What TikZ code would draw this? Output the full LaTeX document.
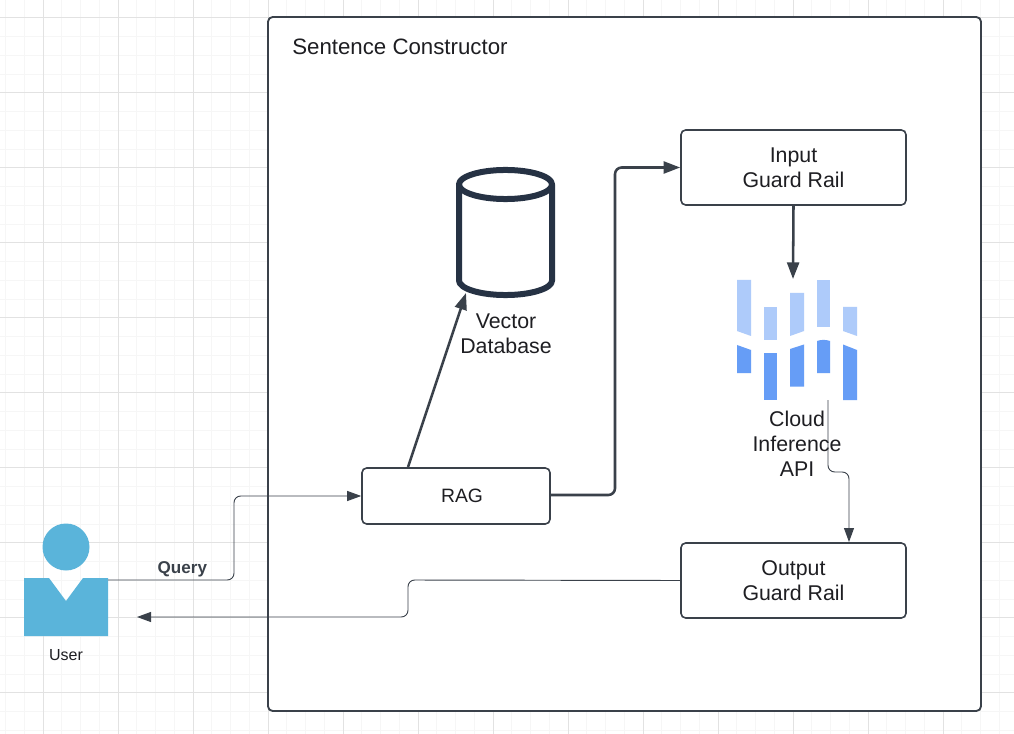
\documentclass[tikz,border=0pt]{standalone}
\usepackage{fontspec}
\setmainfont{Liberation Sans}
\usepackage{xcolor}
\usetikzlibrary{arrows.meta}
\definecolor{guard_ink}{RGB}{58,65,74}
\definecolor{guard_text}{RGB}{30,30,34}
\definecolor{db_navy}{RGB}{38,50,68}
\definecolor{user_blue}{RGB}{90,180,218}
\definecolor{cloud_light}{RGB}{174,203,250}
\definecolor{cloud_dark}{RGB}{102,157,246}
\definecolor{grid_minor}{RGB}{246,246,246}
\definecolor{grid_major}{RGB}{226,226,226}

\begin{document}
\begin{tikzpicture}[x=0.75pt,y=-0.75pt,font=\fontsize{16}{18.75}\selectfont,
          box/.style={draw=guard_ink, fill=white, line width=1.2pt, rounded corners=3.5pt,
                      text=guard_text, align=center},
          lbl/.style={text=guard_text, align=center, inner sep=0pt},
          dbline/.style={draw=db_navy, line width=4.5pt, line join=round},
          thinarr/.style={-{Stealth[length=10.5pt,width=7.5pt,inset=0pt]}, guard_ink, line width=0.7pt, rounded corners=5pt},
          thickarr/.style={-{Stealth[length=12.5pt,width=9pt,inset=0pt]}, guard_ink, line width=1.9pt, rounded corners=5pt}]
        \useasboundingbox (0,0) rectangle (1014,734);
        \fill[white] (0,0) rectangle (1014,734);
        % grid
        \foreach \gx in {0,...,54} \draw[grid_minor,line width=0.7pt] (5.5+18.75*\gx,0) -- (5.5+18.75*\gx,734);
        \foreach \gy in {0,...,39} \draw[grid_minor,line width=0.7pt] (0,-1+18.75*\gy) -- (1014,-1+18.75*\gy);
        \foreach \gx in {0,...,13} \draw[grid_major,line width=0.75pt] (43.25+75*\gx,0) -- (43.25+75*\gx,734);
        \foreach \gy in {0,...,9} \draw[grid_major,line width=0.75pt] (0,17.5+75*\gy) -- (1014,17.5+75*\gy);

        % boxes
        \node[box,minimum width=534.75pt,minimum height=520.5pt,line width=1.4pt] (frame) at (624.5,364) {};
        \node[lbl,anchor=west,font=\fontsize{16.7}{20}\selectfont] (title) at (292,47) {Sentence Constructor};
        \node[box,minimum width=168.75pt,minimum height=56.25pt] (input) at (793.5,167.5) {Input\\Guard Rail};
        \node[box,minimum width=168.75pt,minimum height=56.25pt] (output) at (793.5,580.5) {Output\\Guard Rail};
        \node[box,minimum width=141pt,minimum height=42pt,font=\fontsize{14.5}{18}\selectfont] (rag) at (456,496) {\hspace{9pt}RAG};

        % database
        \draw[dbline] (505.5,184.5) ellipse [x radius=34.9pt,y radius=10.9pt];
        \draw[dbline] (459,184.5) -- (459,280.5) arc[start angle=180,end angle=360,x radius=34.9pt,y radius=10.9pt] -- (552,184.5);
        \node[lbl] (dblabel) at (506,334) {Vector\\Database};

        % cloud bars
        \fill[cloud_light] (737,280) -- (751,280) -- (751,336) -- (737,331) -- cycle;
        \fill[cloud_dark]  (737,345) -- (751,350) -- (751,373) -- (737,373) -- cycle;
        \fill[cloud_light] (763.5,307) -- (777,307) -- (777,340) -- (763.5,340) -- cycle;
        \fill[cloud_dark]  (763.5,353) -- (777,353) -- (777,400) -- (763.5,400) -- cycle;
        \fill[cloud_light] (790,293) -- (804,293) -- (804,331) -- (790,336) -- cycle;
        \fill[cloud_dark]  (790,349) -- (804,344.5) -- (804,386.5) -- (790,386.5) -- cycle;
        \fill[cloud_light] (817,280) -- (830,280) -- (830,327) -- (817,327) -- cycle;
        \fill[cloud_dark]  (817,341) .. controls (821,339.5) and (826,339.5) .. (830,341) -- (830,373) -- (817,373) -- cycle;
        \fill[cloud_light] (843,307) -- (857,307) -- (857,336) -- (843,331) -- cycle;
        \fill[cloud_dark]  (843,344.5) -- (857,350) -- (857,400) -- (843,400) -- cycle;
        \node[lbl] (cloudlabel) at (797,443.5) {Cloud\\Inference\\API};

        % user
        \fill[user_blue] (66,547) circle (23.5);
        \fill[user_blue] (24,578) -- (49,578) -- (66,601) -- (83,578) -- (108,578) -- (108,636) -- (24,636) -- cycle;
        \node[lbl,font=\fontsize{12}{14}\selectfont] (userlabel) at (66,655) {User};

        % connector ends
        \coordinate (queryout) at (108,580);
        \coordinate (querybend) at (234,580);
        \coordinate (returnbend) at (408,580);
        \coordinate (userback) at (137,617);
        \coordinate (ragbend) at (615,495);
        \coordinate (ragtop) at (408,467);
        \coordinate (dbin) at (466,293);
        \coordinate (cloudtop) at (793,279);
        \coordinate (cloudout) at (828,400);
        \coordinate (cloudbend) at (849,472);
        \coordinate (outputin) at (849,542);

        \draw[thinarr] (queryout) -- node[pos=.59,above=2pt,inner sep=0pt,text=guard_ink,font=\fontsize{12.8}{14}\selectfont\bfseries] (query) {Query} (querybend) |- (rag.west);
        \draw[thinarr] (output.west) -- (returnbend) |- (userback);
        \draw[thickarr] (rag.east |- ragbend) -- (ragbend) |- (input.west);
        \draw[thickarr] (ragtop) -- (dbin);
        \draw[thickarr] (input.south) -- (cloudtop);
        \draw[thinarr] (cloudout) |- (cloudbend) -- (outputin);
      \end{tikzpicture}
\end{document}
